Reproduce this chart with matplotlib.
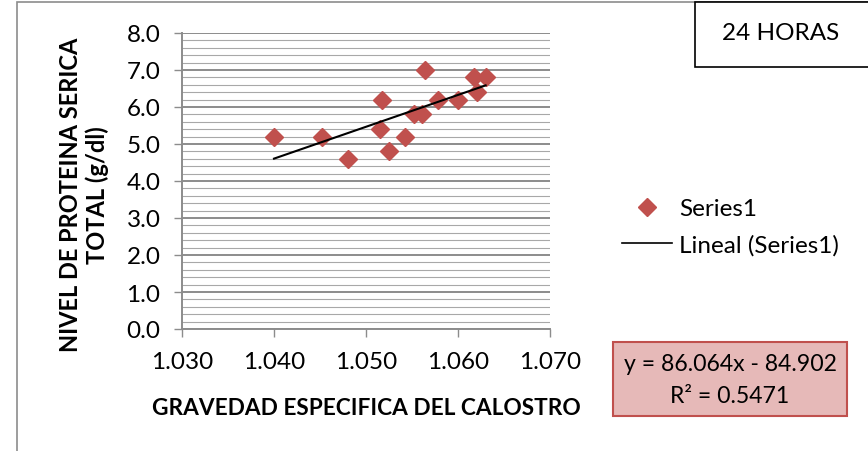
import numpy as np
import matplotlib.pyplot as plt
from matplotlib.patches import Rectangle
from matplotlib.lines import Line2D
from matplotlib.ticker import MultipleLocator

# Data
gravedad = [1.0400, 1.0452, 1.0480, 1.0517, 1.0515, 1.0525, 1.0542, 1.0552,
            1.0561, 1.0564, 1.0578, 1.0600, 1.0617, 1.0621, 1.0630]
proteina = [5.2, 5.2, 4.6, 6.2, 5.4, 4.8, 5.2, 5.8,
            5.8, 7.0, 6.2, 6.2, 6.8, 6.4, 6.8]

# Trendline shown on the chart
slope = 86.064
intercept = -84.902
r2 = 0.5471

W, H = 868, 452
plt.rcParams['font.family'] = ['Lato', 'DejaVu Sans']

fig = plt.figure(figsize=(W / 100, H / 100), dpi=100)
ax = fig.add_axes([182 / W, 1 - 330 / H, 368 / W, 296 / H])

# Scatter + trendline
ax.plot(gravedad, proteina, linestyle='none', marker='D', markersize=9.5,
        color='#C0504D', zorder=3)
xt = np.array([min(gravedad), max(gravedad)])
ax.plot(xt, slope * xt + intercept, color='black', lw=1.5, zorder=4)

# Axes
ax.set_xlim(1.030, 1.070)
ax.set_ylim(0, 8)
ax.xaxis.set_major_locator(MultipleLocator(0.01))
ax.yaxis.set_major_locator(MultipleLocator(1.0))
ax.yaxis.set_minor_locator(MultipleLocator(0.2))
ax.xaxis.set_major_formatter(plt.FuncFormatter(lambda v, p: f'{v:.3f}'))
ax.yaxis.set_major_formatter(plt.FuncFormatter(lambda v, p: f'{v:.1f}'))

ax.grid(which='major', axis='y', color='#8C8C8C', lw=1.4, zorder=0)
ax.grid(which='minor', axis='y', color='#A8A8A8', lw=0.8, zorder=0)
ax.tick_params(which='minor', length=0)
ax.tick_params(which='major', direction='out', length=5.5, color='#8C8C8C',
               labelsize=17.5, width=1, pad=10)
for s in ['top', 'right']:
    ax.spines[s].set_visible(False)
for s in ['left', 'bottom']:
    ax.spines[s].set_color('#8C8C8C')
    ax.spines[s].set_linewidth(1.4)

# Axis titles
fig.text(366 / W, 1 - 409 / H, 'GRAVEDAD ESPECIFICA DEL CALOSTRO',
         fontsize=16.3, fontweight='bold', ha='center', va='center')
fig.text(84 / W, 1 - 195 / H, 'NIVEL DE PROTEINA SERICA\nTOTAL (g/dl)',
         fontsize=17, fontweight='bold', ha='center', va='center',
         rotation=90, linespacing=1.15)

# Outer chart border
fig.patches.append(Rectangle((17 / W, -0.1), 1.0, 1 - 3 / H + 0.1,
                             transform=fig.transFigure, fill=False,
                             edgecolor='#8C8C8C', lw=1.2))

# Legend
handles = [Line2D([], [], linestyle='none', marker='D', markersize=9,
                  color='#C0504D'),
           Line2D([], [], color='black', lw=1.2)]
fig.legend(handles, ['Series1', 'Lineal (Series1)'], loc='center left',
           bbox_to_anchor=(622 / W, 1 - 228 / H), frameon=False,
           fontsize=17.5, handlelength=2.05, handletextpad=0.3,
           labelspacing=0.6, borderpad=0, borderaxespad=0)

# Equation box
fig.patches.append(Rectangle((613 / W, 1 - 417 / H), 234 / W, 74 / H,
                             transform=fig.transFigure, facecolor='#E6B9B8',
                             edgecolor='#C0504D', lw=1.5))
fig.text(730 / W, 1 - 365 / H, f'y = {slope}x - {abs(intercept)}',
         ha='center', va='center', fontsize=16.6)
fig.text(730 / W, 1 - 397 / H, f'R² = {r2}',
         ha='center', va='center', fontsize=16.6)

# Title box
fig.patches.append(Rectangle((695 / W, 1 - 68 / H), 0.3, 65 / H,
                             transform=fig.transFigure, facecolor='white',
                             edgecolor='black', lw=1.2))
fig.text(781 / W, 1 - 34 / H, '24 HORAS', ha='center', va='center',
         fontsize=17.5)

fig.savefig('out.png', dpi=100)
